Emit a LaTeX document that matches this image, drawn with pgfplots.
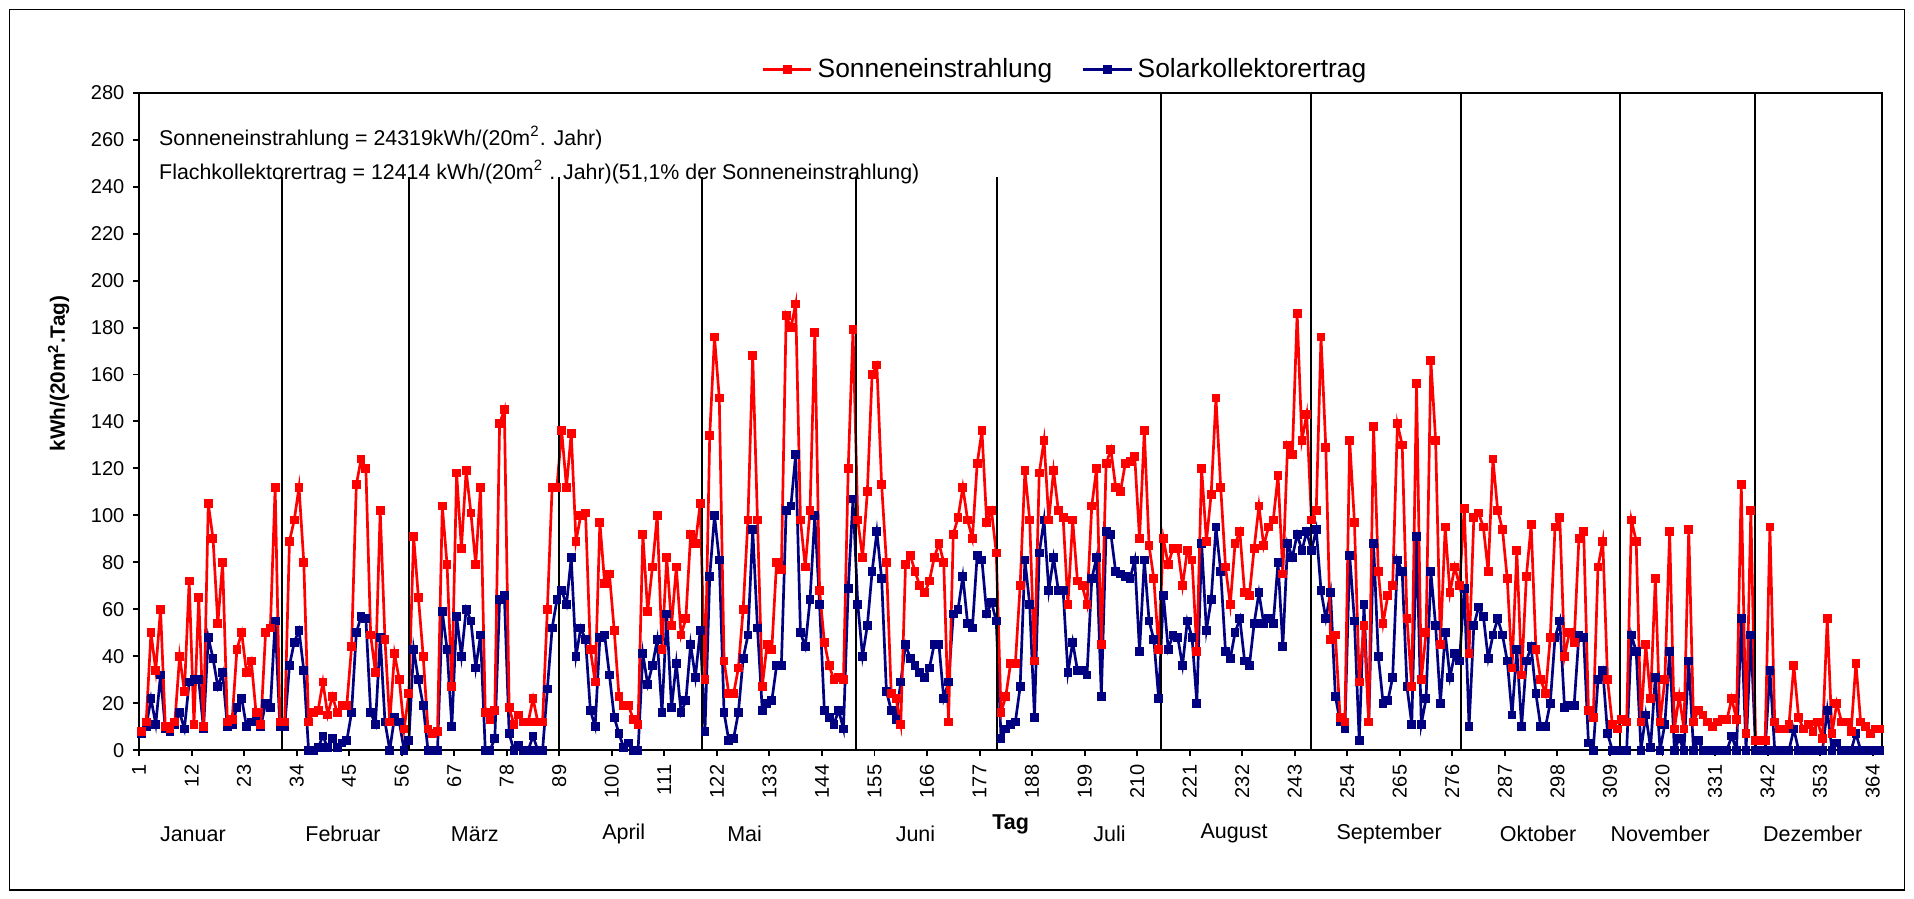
\documentclass[border=0pt]{standalone}
\usepackage{fontspec}
\setmainfont{Liberation Sans}
\usepackage{pgfplots}
\usepackage{pgfplotstable}
\pgfplotsset{compat=1.18}
\definecolor{sred}{RGB}{255,0,0}
\definecolor{snavy}{RGB}{0,0,128}
\pgfplotstableread{
d s k
1 8 7
2 12 10
3 50 22
4 34 11
5 60 32
6 10 9
7 9 8
8 12 11
9 40 16
10 25 9
11 72 29
12 11 30
13 65 30
14 10 9
15 105 48
16 90 39
17 54 27
18 80 33
19 12 10
20 13 11
21 43 18
22 50 22
23 33 10
24 38 12
25 16 14
26 11 10
27 50 20
28 52 18
29 112 55
30 12 10
31 12 10
32 89 36
33 98 46
34 112 51
35 80 34
36 12 0
37 16 0
38 17 1
39 29 6
40 15 1
41 23 5
42 16 1
43 19 3
44 19 4
45 44 16
46 113 50
47 124 57
48 120 56
49 49 16
50 33 11
51 102 48
52 47 12
53 12 0
54 41 14
55 30 12
56 9 0
57 24 4
58 91 43
59 65 30
60 40 19
61 9 0
62 7 0
63 8 0
64 104 59
65 79 43
66 27 10
67 118 57
68 86 40
69 119 60
70 101 55
71 79 35
72 112 49
73 16 0
74 13 0
75 17 5
76 139 64
77 145 66
78 18 7
79 11 0
80 15 2
81 12 0
82 12 0
83 22 6
84 12 0
85 12 0
86 60 26
87 112 52
88 112 64
89 136 68
90 112 62
91 135 82
92 89 40
93 100 52
94 101 47
95 43 17
96 29 10
97 97 48
98 71 49
99 75 32
100 51 14
101 23 7
102 19 1
103 19 3
104 13 0
105 11 0
106 92 41
107 59 28
108 78 36
109 100 47
110 43 16
111 82 58
112 53 18
113 78 37
114 49 16
115 56 21
116 92 45
117 88 31
118 105 51
119 30 8
120 134 74
121 176 100
122 150 81
123 38 16
124 24 4
125 24 5
126 35 16
127 60 39
128 98 49
129 168 94
130 98 52
131 27 17
132 45 20
133 43 21
134 80 36
135 77 36
136 185 102
137 180 104
138 190 126
139 98 50
140 78 44
141 102 64
142 178 100
143 68 62
144 46 17
145 36 14
146 30 11
147 31 17
148 30 9
149 120 69
150 179 107
151 98 62
152 82 40
153 110 53
154 160 76
155 164 93
156 113 73
157 80 25
158 24 17
159 22 13
160 11 29
161 79 45
162 83 39
163 76 36
164 70 33
165 67 31
166 72 35
167 82 45
168 88 45
169 80 22
170 12 29
171 92 58
172 99 60
173 112 74
174 98 54
175 90 52
176 122 83
177 136 81
178 97 58
179 102 63
180 84 55
181 16 5
182 23 9
183 37 11
184 37 12
185 70 27
186 119 81
187 98 62
188 38 14
189 118 84
190 132 98
191 98 68
192 119 82
193 102 68
194 99 68
195 62 33
196 98 46
197 72 34
198 70 34
199 62 32
200 104 73
201 120 82
202 45 23
203 122 93
204 128 92
205 112 76
206 110 75
207 122 74
208 123 73
209 125 81
210 90 42
211 136 81
212 87 55
213 73 47
214 43 22
215 90 66
216 79 43
217 86 49
218 86 48
219 70 36
220 85 55
221 81 48
222 42 20
223 120 88
224 89 51
225 109 64
226 150 95
227 112 76
228 78 42
229 62 39
230 88 50
231 93 56
232 67 38
233 66 36
234 86 54
235 104 67
236 87 54
237 95 56
238 98 54
239 117 80
240 75 44
241 130 88
242 126 82
243 186 92
244 132 85
245 143 93
246 98 85
247 102 94
248 176 68
249 129 56
250 47 67
251 49 23
252 14 12
253 12 9
254 132 83
255 97 55
256 29 4
257 53 62
258 12 12
259 138 88
260 76 40
261 54 20
262 66 21
263 70 31
264 139 81
265 130 76
266 56 27
267 27 11
268 156 91
269 30 11
270 50 22
271 166 76
272 132 53
273 45 20
274 95 50
275 67 31
276 78 41
277 70 38
278 103 69
279 41 10
280 99 53
281 101 61
282 95 57
283 76 39
284 124 49
285 102 56
286 94 49
287 73 38
288 35 15
289 85 43
290 32 10
291 74 38
292 96 44
293 43 24
294 30 10
295 24 10
296 48 20
297 95 48
298 99 55
299 40 18
300 50 19
301 46 19
302 90 49
303 93 48
304 17 3
305 14 0
306 78 30
307 89 34
308 30 7
309 11 0
310 9 0
311 13 0
312 12 0
313 98 49
314 89 42
315 12 0
316 45 15
317 22 1
318 73 31
319 12 0
320 30 11
321 93 42
322 9 0
323 23 5
324 9 0
325 94 38
326 12 0
327 17 4
328 15 0
329 12 0
330 10 0
331 12 0
332 13 0
333 13 0
334 22 6
335 13 0
336 113 56
337 7 0
338 102 49
339 4 0
340 4 0
341 4 0
342 95 34
343 12 0
344 9 0
345 9 0
346 11 0
347 36 9
348 14 0
349 9 0
350 11 0
351 8 0
352 12 0
353 5 0
354 56 17
355 7 0
356 20 3
357 12 0
358 12 0
359 8 0
360 37 7
361 12 0
362 10 0
363 7 0
364 9 0
365 9 0
}\datatable
\begin{document}
\begin{tikzpicture}
\useasboundingbox (0pt,0pt) rectangle (784pt,368pt);
\draw[line width=0.6pt] (4pt,3.5pt) rectangle (780pt,364pt);
\begin{axis}[
  at={(56.95pt,60.75pt)}, anchor=south west,
  width=714pt, height=269.25pt, scale only axis,
  xmin=0.5, xmax=365.5, ymin=0, ymax=280,
  ytick={0,20,...,280},
  xtick={0.5,11.5,...,363.5},
  xticklabels={1,12,23,34,45,56,67,78,89,100,111,122,133,144,155,166,177,188,199,210,221,232,243,254,265,276,287,298,309,320,331,342,353,364},
  /pgf/number format/assume math mode=true,
  xticklabel style={rotate=90, anchor=east, font=\fontsize{8.2}{9}\selectfont},
  yticklabel style={font=\fontsize{8.2}{9}\selectfont},
  tick align=outside, major tick length=2.5pt,
  xtick pos=bottom, ytick pos=left,
  axis line style={line width=1pt},
  every tick/.style={black, line width=0.8pt},
  reverse legend,
  legend columns=2,
  legend style={at={(0.532,1)}, anchor=center, yshift=9.5pt, draw=none, fill=none,
    font=\fontsize{10.8}{12}\selectfont,
    /tikz/every even column/.append style={column sep=10pt}},
  legend image code/.code={\draw[mark repeat=2,mark phase=2] plot coordinates {(0cm,0cm) (0.35cm,0cm) (0.7cm,0cm)};},
]
\addplot[color=snavy, line width=1.1pt, mark=square*, mark size=1.25pt, mark options={solid}] table[x=d,y=k]{\datatable};
\addlegendentry{Solarkollektorertrag}
\addplot[color=sred, line width=1.1pt, mark=square*, mark size=1.25pt, mark options={solid}] table[x=d,y=s]{\datatable};
\addlegendentry{Sonneneinstrahlung}
\foreach \p in {30.4,57.0,88.5,118.4,150.6,180.2}{
  \edef\temp{\noexpand\draw[line width=0.8pt,black] (axis cs:\p,0) -- (axis cs:\p,244);}\temp
}
\foreach \p in {214.5,246.0,277.4,310.7,338.8}{
  \edef\temp{\noexpand\draw[line width=0.8pt,black] (axis cs:\p,0) -- (axis cs:\p,280);}\temp
}
\node[anchor=west, font=\fontsize{8.75}{10}\selectfont, inner sep=0pt] at (rel axis cs:0.0113,0.931) {Sonneneinstrahlung = 24319kWh/(20m\textsuperscript{2}. Jahr)};
\node[anchor=west, font=\fontsize{8.75}{10}\selectfont, inner sep=0pt] at (rel axis cs:0.0113,0.879) {Flachkollektorertrag = 12414 kWh/(20m\textsuperscript{2} . Jahr)(51,1\% der Sonneneinstrahlung)};
\end{axis}
\node[rotate=90, font=\bfseries\fontsize{8.5}{10}\selectfont] at (24pt,215pt) {kWh/(20m\textsuperscript{2}.Tag)};
\node[font=\bfseries\fontsize{8.8}{10}\selectfont] at (414pt,30.5pt) {Tag};
\foreach \x/\m in {79/Januar,140.5/Februar,194.5/März,255.5/April,305/Mai,375/Juni,454.5/Juli,505.5/August,569/September,630/Oktober,680/November,742.5/Dezember}{
  \node[font=\fontsize{8.8}{10}\selectfont] at (\x pt,26.5pt) {\m};
}
\end{tikzpicture}
\end{document}
